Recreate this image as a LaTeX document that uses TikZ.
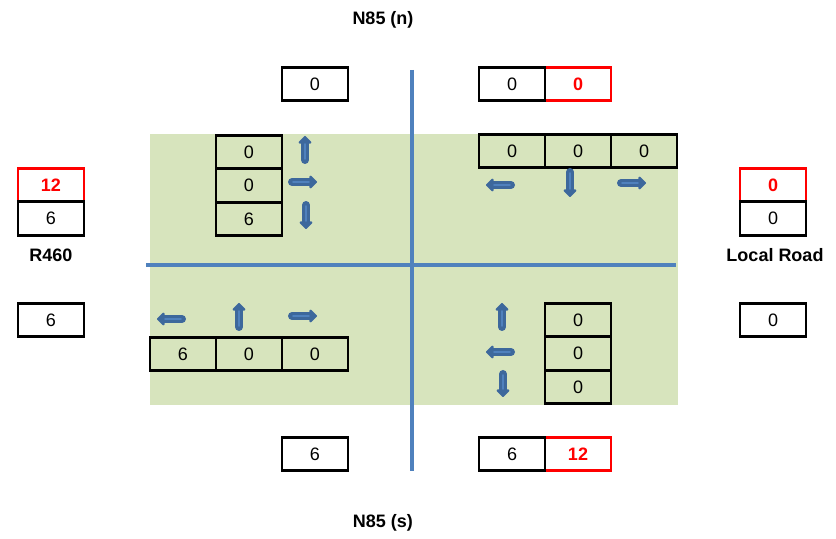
\documentclass[tikz,border=0pt]{standalone}
\usepackage{fontspec}
\setmainfont{Liberation Sans}
\usetikzlibrary{arrows.meta,positioning}
\definecolor{fieldgreen}{HTML}{D7E4BD}
\definecolor{roadblue}{HTML}{4F81BD}
\definecolor{arrowblue}{HTML}{3D689C}
\definecolor{countred}{HTML}{FF0000}

\begin{document}
\begin{tikzpicture}[x=0.5pt, y=-0.5pt,
  font=\fontsize{9}{11}\selectfont,
  cell/.style={
    draw,
    line width=1.3pt,
    outer sep=0pt,
    inner sep=0pt,
    minimum width=33pt,
    minimum height=16.75pt
  },
  hot/.style={cell, draw=countred, text=countred, font=\fontsize{9}{11}\selectfont\bfseries},
  lbl/.style={font=\fontsize{9}{11}\selectfont\bfseries},
  road/.style={draw=roadblue, line width=2pt},
  arr/.style={draw=arrowblue, line width=4pt, line cap=round,
    -{Triangle[round, length=4pt, width=7.5pt]},
    postaction={draw=roadblue, line width=0.8pt, -, shorten >=4pt, shorten <=0.5pt}}
]
\useasboundingbox (0,0) rectangle (836,539);

% junction area and roads
\fill[fieldgreen] (150,134) rectangle (678,405);
\draw[road] (412,70) -- (412,471);
\draw[road] (146,265) -- (676,265);

% road names
\node[lbl] (nname) at (383,20) {N85 (n)};
\node[lbl] (sname) at (383,523) {N85 (s)};
\node[lbl] (wname) at (51,255) {R460};
\node[lbl] (ename) at (775,255) {Local Road};

% north arm
\node[cell] (nout) at (315,84) {0};
\node[hot] (nsum) at (578,84) {0};
\node[cell, left=0pt of nsum] (nin) {0};

\node[cell] (nwa) at (249,152) {0};
\node[cell, below=0pt of nwa] (nwb) {0};
\node[cell, below=0pt of nwb] (nwc) {6};

\node[cell] (nea) at (512,151) {0};
\node[cell, right=0pt of nea] (neb) {0};
\node[cell, right=0pt of neb] (nec) {0};

% west arm
\node[hot] (wsum) at (51,185) {12};
\node[cell, below=0pt of wsum] (win) {6};
\node[cell] (wout) at (51,320) {6};

% east arm
\node[hot] (esum) at (773,185) {0};
\node[cell, below=0pt of esum] (ein) {0};
\node[cell] (eout) at (773,320) {0};

% south-west and south-east movements
\node[cell] (swa) at (183,354) {6};
\node[cell, right=0pt of swa] (swb) {0};
\node[cell, right=0pt of swb] (swc) {0};

\node[cell] (sea) at (578,320) {0};
\node[cell, below=0pt of sea] (seb) {0};
\node[cell, below=0pt of seb] (sec) {0};

% south arm
\node[cell] (sout) at (315,454) {6};
\node[hot] (ssum) at (578,454) {12};
\node[cell, left=0pt of ssum] (sin) {6};

% turning arrows
\draw[arr] (305,160) -- (305,136);
\draw[arr] (292,182) -- (317,182);
\draw[arr] (306,205) -- (306,229);

\draw[arr] (511,185) -- (486,185);
\draw[arr] (570,172) -- (570,197);
\draw[arr] (621,183) -- (646,183);

\draw[arr] (182,319) -- (157,319);
\draw[arr] (239,327) -- (239,303);
\draw[arr] (292,316) -- (317,316);

\draw[arr] (502,327) -- (502,303);
\draw[arr] (511,352) -- (486,352);
\draw[arr] (503,374) -- (503,397);
\end{tikzpicture}
\end{document}
